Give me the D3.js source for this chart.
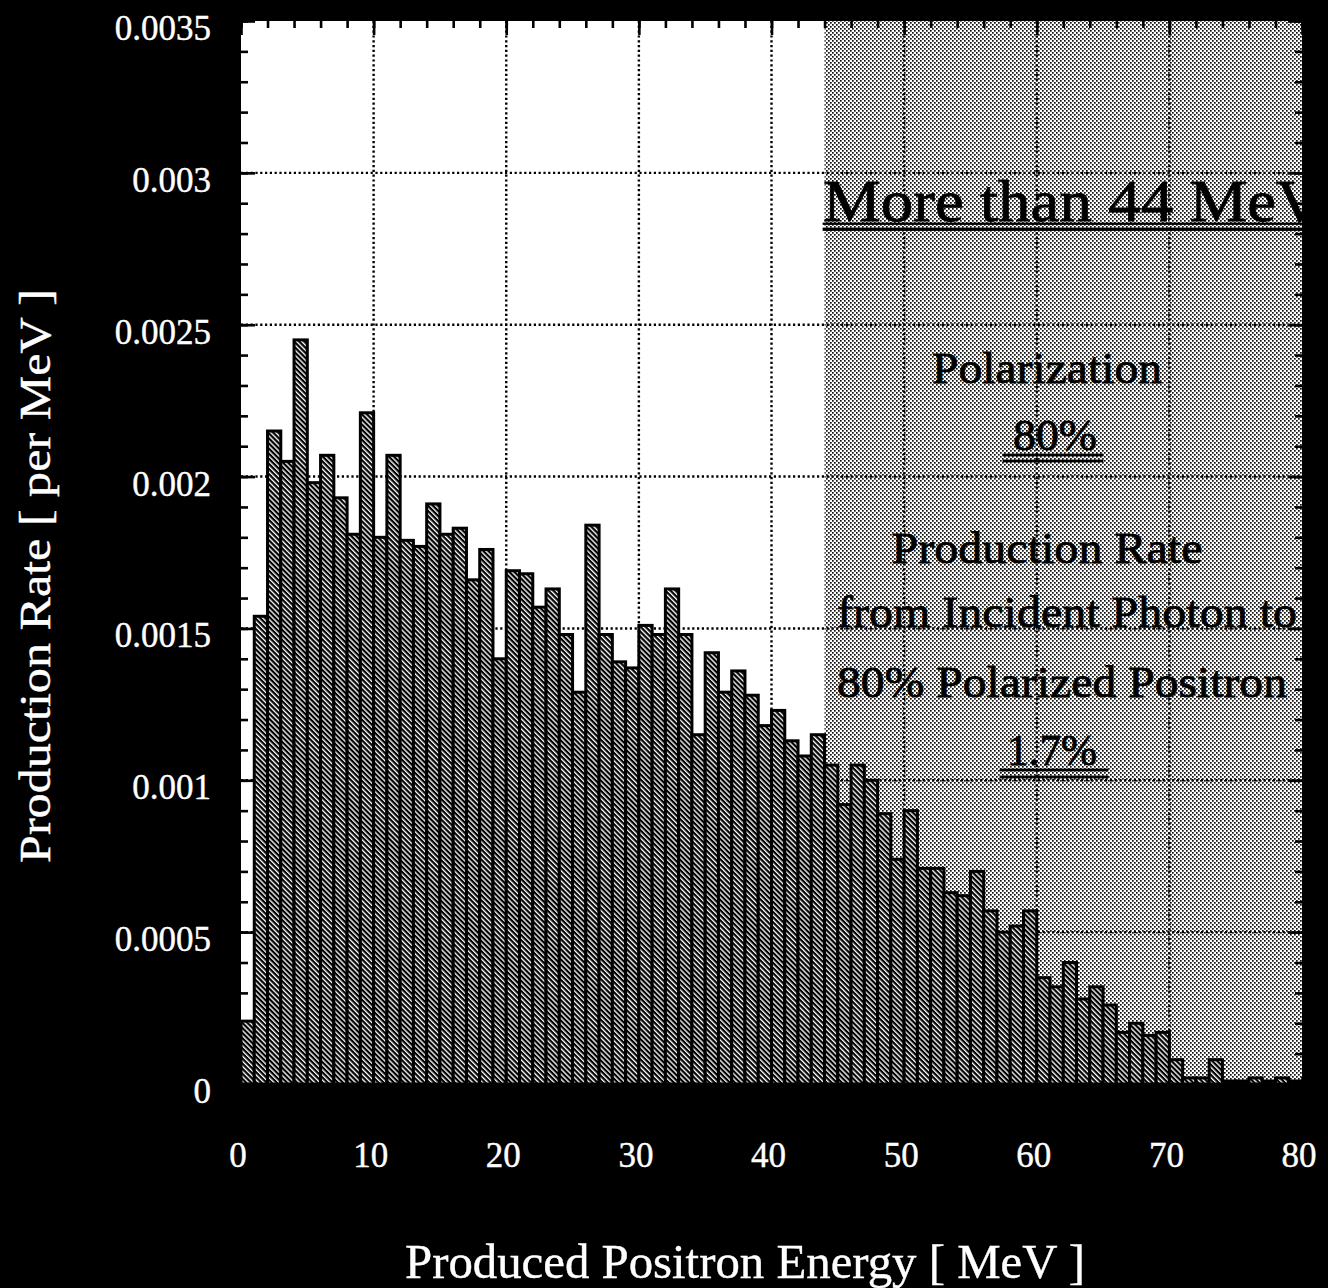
<!DOCTYPE html>
<html><head><meta charset="utf-8">
<script src="https://cdn.jsdelivr.net/npm/d3@7"></script>
<style>html,body{margin:0;padding:0;background:#000;} svg{display:block}</style>
</head><body>
<svg id="c" width="1328" height="1288"></svg>
<script>
// ---- data ----
const binStart = [0,1,2,3,4,5,6,7,8,9,10,11,12,13,14,15,16,17,18,19,20,21,22,23,24,25,26,27,28,29,30,31,32,33,34,35,36,37,38,39,40,41,42,43,44,45,46,47,48,49,50,51,52,53,54,55,56,57,58,59,60,61,62,63,64,65,66,67,68,69,70,71,72,73,74,75,76,77,78,79];
const rate = [0.000207,0.00154,0.00215,0.00205,0.00245,0.00198,0.00207,0.00193,0.00181,0.00221,
              0.00180,0.00207,0.00179,0.00177,0.00191,0.00181,0.00183,0.00166,0.00176,0.00140,
              0.00169,0.00168,0.00157,0.00163,0.00148,0.00129,0.00184,0.00148,0.00139,0.00137,
              0.00151,0.00148,0.00163,0.00148,0.00115,0.00142,0.00129,0.00136,0.00128,0.00118,
              0.00123,0.00113,0.00108,0.00115,0.00105,0.00092,0.00105,0.00100,0.00089,0.00074,
              0.00090,0.00071,0.00071,0.00063,0.00062,0.00070,0.00057,0.00050,0.00052,0.00057,
              0.00035,0.00032,0.00040,0.00028,0.00032,0.00026,0.00017,0.00020,0.00016,0.00017,
              0.00008,0.00002,0.00002,0.00008,0.00001,0.00001,0.00002,0.00001,0.00002,0.00001];
const binWidth = 1;
const xTicks = [0,10,20,30,40,50,60,70,80];
const xTickLabels = ["0","10","20","30","40","50","60","70","80"];
const yTicks = [0,0.0005,0.001,0.0015,0.002,0.0025,0.003,0.0035];
const yTickLabels = ["0","0.0005","0.001","0.0015","0.002","0.0025","0.003","0.0035"];
const xMinorStep = 2;
const yMinorStep = 0.0001;
const highlightFrom = 44;
const xTitle = "Produced Positron Energy  [ MeV ]";
const yTitle = "Production Rate  [ per MeV ]";
const headline = "More than 44 MeV";
const polLabel = "Polarization";
const polValue = "80%";
const rateLines = ["Production Rate", "from Incident Photon to", "80% Polarized Positron"];
const rateValue = "1.7%";

// ---- layout ----
const L = 241, R = 1302, T = 21, B = 1084;
const svg = d3.select("#c");
svg.append("rect").attr("width",1328).attr("height",1288).attr("fill","#000");

const x = d3.scaleLinear().domain([0,80]).range([L,R]);
const y = d3.scaleLinear().domain([0,0.0035]).range([B,T]);

const defs = svg.append("defs");
const hatch = defs.append("pattern").attr("id","hatch").attr("patternUnits","userSpaceOnUse")
  .attr("width",3.6).attr("height",3.6).attr("patternTransform","rotate(-45)");
hatch.append("rect").attr("width",3.6).attr("height",3.6).attr("fill","#000");
hatch.append("rect").attr("width",1.35).attr("height",3.6).attr("fill","#fff");

const dots = defs.append("pattern").attr("id","dots").attr("patternUnits","userSpaceOnUse")
  .attr("width",4).attr("height",4);
dots.append("rect").attr("width",4).attr("height",4).attr("fill","#fff");
dots.append("rect").attr("x",0).attr("y",0).attr("width",1.7).attr("height",1.7).attr("fill","#111");
dots.append("rect").attr("x",2).attr("y",2).attr("width",1.7).attr("height",1.7).attr("fill","#111");

defs.append("clipPath").attr("id","plotclip").append("rect")
  .attr("x",L).attr("y",T).attr("width",R-L).attr("height",B-T);

// plot background
svg.append("rect").attr("x",L).attr("y",T).attr("width",R-L).attr("height",B-T).attr("fill","#fff");
svg.append("rect").attr("x",x(highlightFrom)).attr("y",T).attr("width",x(80)-x(highlightFrom))
  .attr("height",B-T).attr("fill","url(#dots)");

// grid
const grid = svg.append("g").attr("stroke","#000").attr("stroke-width",2.4).attr("stroke-dasharray","2.2,2.6");
grid.selectAll("line.v").data(xTicks.slice(1,-1)).enter().append("line")
  .attr("x1",d=>x(d)).attr("x2",d=>x(d)).attr("y1",T).attr("y2",B);
grid.selectAll("line.h").data(yTicks.slice(1,-1)).enter().append("line")
  .attr("x1",L).attr("x2",R).attr("y1",d=>y(d)).attr("y2",d=>y(d));

// ticks via d3 axes (inward)
const xMinor = d3.range(0,80+0.001,xMinorStep);
const yMinor = d3.range(0,0.0035+1e-9,yMinorStep);
function styleAxis(g){ g.select(".domain").remove(); g.selectAll("line").attr("stroke","#000").attr("stroke-width",2.6); g.selectAll("text").remove(); }
svg.append("g").attr("transform",`translate(0,${T})`).call(d3.axisBottom(x).tickValues(xMinor).tickSize(7)).call(styleAxis);
svg.append("g").attr("transform",`translate(0,${T})`).call(d3.axisBottom(x).tickValues(xTicks).tickSize(14)).call(styleAxis);
svg.append("g").attr("transform",`translate(0,${B})`).call(d3.axisTop(x).tickValues(xMinor).tickSize(7)).call(styleAxis);
svg.append("g").attr("transform",`translate(${L},0)`).call(d3.axisRight(y).tickValues(yMinor).tickSize(7)).call(styleAxis);
svg.append("g").attr("transform",`translate(${L},0)`).call(d3.axisRight(y).tickValues(yTicks).tickSize(14)).call(styleAxis);
svg.append("g").attr("transform",`translate(${R},0)`).call(d3.axisLeft(y).tickValues(yMinor).tickSize(7)).call(styleAxis);
svg.append("g").attr("transform",`translate(${R},0)`).call(d3.axisLeft(y).tickValues(yTicks).tickSize(14)).call(styleAxis);

// bars
svg.append("g").selectAll("rect").data(binStart).enter().append("rect")
  .attr("x",d=>x(d)).attr("width",d=>x(d+binWidth)-x(d))
  .attr("y",(d,i)=>y(rate[i])).attr("height",(d,i)=>B-y(rate[i]))
  .attr("fill","url(#hatch)").attr("stroke","#000").attr("stroke-width",3);

// plot bottom edge
svg.append("rect").attr("x",L-2).attr("y",B).attr("width",R-L+4).attr("height",4).attr("fill","#000");

// tick labels
const font = "'Liberation Serif','Times New Roman',serif";
svg.append("g").selectAll("text").data(yTicks).enter().append("text")
  .attr("x",211).attr("y",d=>y(d)+19).attr("text-anchor","end")
  .attr("font-family",font).attr("font-size",35).attr("fill","#fff")
  .attr("stroke","#fff").attr("stroke-width",0.4)
  .text((d,i)=>yTickLabels[i]);
svg.append("g").selectAll("text").data(xTicks).enter().append("text")
  .attr("x",d=>x(d)-3).attr("y",1167).attr("text-anchor","middle")
  .attr("font-family",font).attr("font-size",35).attr("fill","#fff")
  .attr("stroke","#fff").attr("stroke-width",0.4)
  .text((d,i)=>xTickLabels[i]);

// axis titles
svg.append("text").attr("x",745).attr("y",1278).attr("text-anchor","middle")
  .attr("font-family",font).attr("font-size",48).attr("fill","#fff")
  .attr("stroke","#fff").attr("stroke-width",0.4)
  .attr("textLength",680).attr("lengthAdjust","spacingAndGlyphs").text(xTitle);
svg.append("text").attr("transform","translate(50,576) rotate(-90)").attr("text-anchor","middle")
  .attr("font-family",font).attr("font-size",45).attr("fill","#fff")
  .attr("stroke","#fff").attr("stroke-width",0.4)
  .attr("textLength",574).attr("lengthAdjust","spacingAndGlyphs").text(yTitle);

// annotations (clipped to plot)
const ann = svg.append("g").attr("clip-path","url(#plotclip)").attr("font-family",font)
  .attr("fill","#000").attr("stroke","#000").attr("stroke-width",0.8);
ann.append("text").attr("x",823).attr("y",221).attr("font-size",60)
  .attr("textLength",500).attr("lengthAdjust","spacingAndGlyphs").text(headline);
ann.append("rect").attr("x",823).attr("y",223).attr("width",R-823).attr("height",1.5);
ann.append("rect").attr("x",823).attr("y",228).attr("width",R-823).attr("height",2.5);

function centered(txt, cx, base, size, len){
  ann.append("text").attr("x",cx-len/2).attr("y",base).attr("font-size",size)
    .attr("textLength",len).attr("lengthAdjust","spacingAndGlyphs").text(txt);
}
centered(polLabel, 1047, 383, 45, 230);
centered(polValue, 1055, 450, 45, 84);
ann.append("rect").attr("x",1003).attr("y",454).attr("width",100).attr("height",2);
ann.append("rect").attr("x",1003).attr("y",460).attr("width",100).attr("height",2);
centered(rateLines[0], 1047, 563, 45, 311);
centered(rateLines[1], 1067, 627, 45, 460);
centered(rateLines[2], 1062, 697, 45, 450);
centered(rateValue, 1052, 765, 45, 90);
ann.append("rect").attr("x",1000).attr("y",769).attr("width",108).attr("height",2);
ann.append("rect").attr("x",1000).attr("y",776).attr("width",108).attr("height",2);
</script>
</body></html>
